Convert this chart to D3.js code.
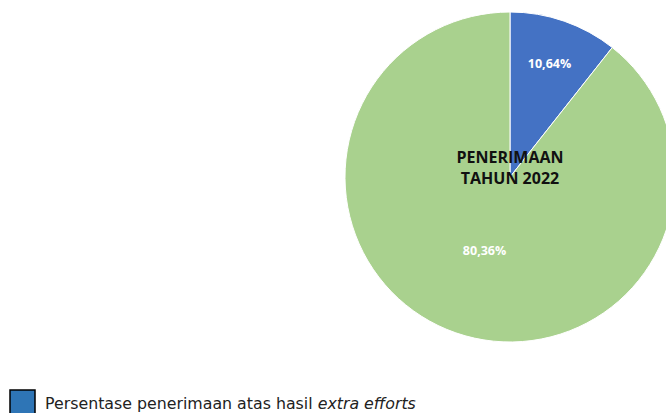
<!DOCTYPE html>
<html>
<head>
<meta charset="utf-8">
<script src="https://cdn.jsdelivr.net/npm/d3@7"></script>
<style>
  html, body { margin: 0; padding: 0; background: #fff; overflow: hidden; }
</style>
</head>
<body>
<svg id="chart"></svg>
<script>
// Data
const categories = ["Extra efforts", "Lainnya"]
const shares = [10.64, 89.36]
const valueLabels = ["10,64%", "80,36%"]
const sliceColors = ["#4472C4", "#A9D18E"]
const centerTitle = ["PENERIMAAN", "TAHUN 2022"]
const legendText = "Persentase penerimaan atas hasil "
const legendItalic = "extra efforts"

const width = 666
const height = 413
const cx = 510, cy = 177, radius = 165
const labelRadius = [0.73, 0.47] // excel puts labels at odd spots

const svg = d3.select("#chart")
  .attr("width", width)
  .attr("height", height)

const pie = d3.pie().sort(null).value(d => d)
const arc = d3.arc().innerRadius(0).outerRadius(radius)
const arcs = pie(shares)

const g = svg.append("g")
  .attr("transform", `translate(${cx}, ${cy})`)

g.selectAll("path")
  .data(arcs)
  .join("path")
    .attr("d", arc)
    .attr("fill", (d, i) => sliceColors[i])
    .attr("stroke", "#fff")
    .attr("stroke-width", 1)

g.selectAll("text.value")
  .data(arcs)
  .join("text")
    .attr("class", "value")
    .attr("transform", (d, i) => {
      const r = radius * labelRadius[i]
      const [x, y] = d3.arc().innerRadius(r).outerRadius(r).centroid(d)
      return `translate(${x}, ${y})`
    })
    .attr("text-anchor", "middle")
    .attr("dy", "0.35em")
    .attr("font-family", "'Open Sans', sans-serif")
    .attr("font-weight", "bold")
    .attr("font-size", 12.5)
    .attr("fill", "#fff")
    .text((d, i) => valueLabels[i])

g.append("text")
  .attr("text-anchor", "middle")
  .attr("font-family", "'Open Sans', sans-serif")
  .attr("font-weight", "bold")
  .attr("font-size", 16)
  .attr("fill", "#111")
  .selectAll("tspan")
  .data(centerTitle)
  .join("tspan")
    .attr("x", 0)
    .attr("y", (d, i) => -14 + i * 21)
    .text(d => d)

// Legend, cut off at the bottom edge like the original
const legend = svg.append("g")
  .attr("transform", "translate(10, 390)")

legend.append("rect")
  .attr("width", 25)
  .attr("height", 26)
  .attr("fill", "#2E75B6")
  .attr("stroke", "#000")
  .attr("stroke-width", 1.5)

const lt = legend.append("text")
  .attr("x", 35)
  .attr("y", 19)
  .attr("font-family", "'DejaVu Sans', sans-serif")
  .attr("font-size", 15.8)
  .attr("fill", "#222")
lt.append("tspan").text(legendText)
lt.append("tspan").attr("font-style", "italic").text(legendItalic)
</script>
</body>
</html>
